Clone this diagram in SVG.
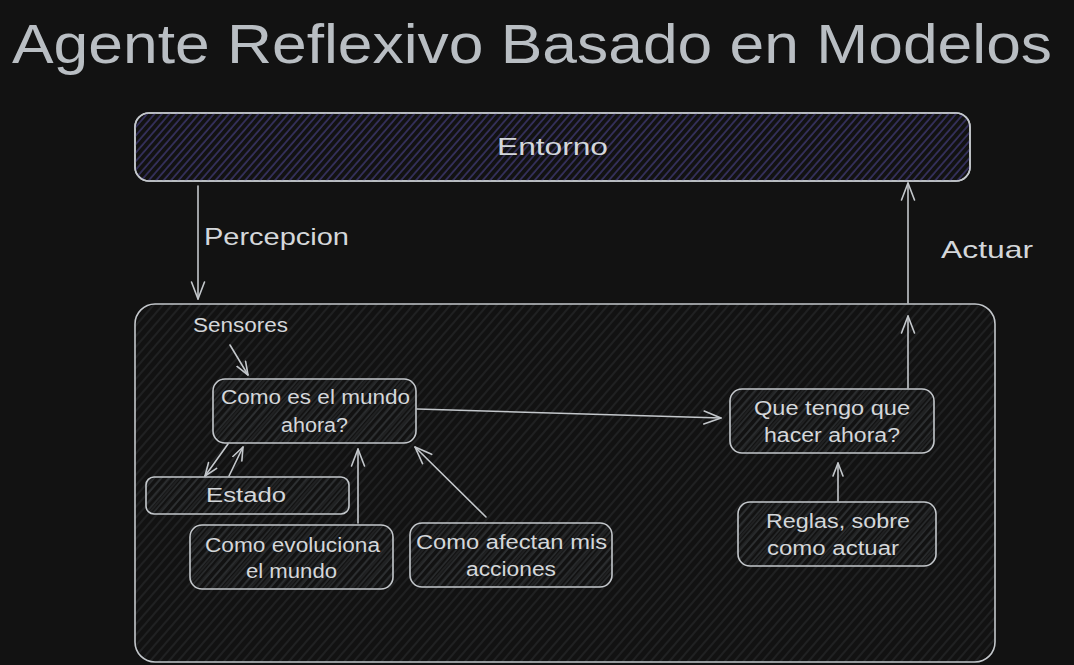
<svg xmlns="http://www.w3.org/2000/svg" width="1074" height="665" viewBox="0 0 1074 665">
<defs>
<style>
.t{font-family:"Liberation Sans",Arial,sans-serif;fill:#d4d7da;}
.s{font-size:20px;}
.m{font-size:24px;}
.box{stroke:#c3c7cb;stroke-width:1.6;}
.ln{fill:none;stroke:#c3c7cb;stroke-width:1.6;stroke-linecap:round;}
</style>
<pattern id="hp" patternUnits="userSpaceOnUse" width="5.6" height="10" patternTransform="rotate(41)">
<line x1="1" y1="0" x2="1" y2="10" stroke="#453f80" stroke-width="1.2"/>
</pattern>
<pattern id="hb" patternUnits="userSpaceOnUse" width="7" height="10" patternTransform="rotate(41)">
<line x1="1" y1="0" x2="1" y2="10" stroke="#27292b" stroke-width="1.3"/>
</pattern>
<pattern id="hi" patternUnits="userSpaceOnUse" width="5.5" height="10" patternTransform="rotate(41)">
<line x1="1" y1="0" x2="1" y2="10" stroke="#35383b" stroke-width="1.1"/>
</pattern>
<marker id="ah" markerUnits="userSpaceOnUse" markerWidth="20" markerHeight="16" viewBox="0 0 20 16" refX="18" refY="8" orient="auto">
<path d="M1,1.5 L18,8 L1,14.5" fill="none" stroke="#c3c7cb" stroke-width="1.6" stroke-linecap="round" stroke-linejoin="round"/>
</marker>
<marker id="as" markerUnits="userSpaceOnUse" markerWidth="16" markerHeight="12" viewBox="0 0 16 12" refX="14" refY="6" orient="auto">
<path d="M1,1 L14,6 L1,11" fill="none" stroke="#c3c7cb" stroke-width="1.6" stroke-linecap="round" stroke-linejoin="round"/>
</marker>
</defs>
<rect x="0" y="0" width="1074" height="665" fill="#121212"/>

<text class="t" x="12" y="63" font-size="56" textLength="1040" lengthAdjust="spacingAndGlyphs" fill="#b9bec3" style="fill:#b9bec3">Agente Reflexivo Basado en Modelos</text>

<g id="entorno">
<rect class="box" x="135" y="113" width="835" height="68" rx="14" fill="#121212"/>
<rect x="135" y="113" width="835" height="68" rx="14" fill="url(#hp)"/>
<rect class="box" x="135" y="113" width="835" height="68" rx="14" fill="none"/>
<text class="t m" x="497" y="155" textLength="111" lengthAdjust="spacingAndGlyphs">Entorno</text>
</g>

<g id="agente">
<rect x="135" y="304" width="860" height="358" rx="20" fill="url(#hb)"/>
<rect class="box" x="135" y="304" width="860" height="358" rx="20" fill="none"/>
<text class="t s" x="193" y="332" textLength="95" lengthAdjust="spacingAndGlyphs">Sensores</text>
</g>

<g id="como-es">
<rect class="box" x="213" y="379" width="203" height="64" rx="12" fill="url(#hi)"/>
<text class="t s" x="221" y="404" textLength="189" lengthAdjust="spacingAndGlyphs">Como es el mundo</text>
<text class="t s" x="281" y="432" textLength="67" lengthAdjust="spacingAndGlyphs">ahora?</text>
</g>

<g id="estado">
<rect class="box" x="146" y="477" width="203" height="37" rx="8" fill="url(#hi)"/>
<text class="t s" x="206" y="502" textLength="80" lengthAdjust="spacingAndGlyphs">Estado</text>
</g>

<g id="evoluciona">
<rect class="box" x="190" y="525" width="203" height="64" rx="12" fill="url(#hi)"/>
<text class="t s" x="205" y="552" textLength="175" lengthAdjust="spacingAndGlyphs">Como evoluciona</text>
<text class="t s" x="246" y="578" textLength="91" lengthAdjust="spacingAndGlyphs">el mundo</text>
</g>

<g id="afectan">
<rect class="box" x="410" y="523" width="202" height="64" rx="12" fill="url(#hi)"/>
<text class="t s" x="416" y="549" textLength="191" lengthAdjust="spacingAndGlyphs">Como afectan mis</text>
<text class="t s" x="466" y="576" textLength="90" lengthAdjust="spacingAndGlyphs">acciones</text>
</g>

<g id="que-tengo">
<rect class="box" x="730" y="389" width="204" height="64" rx="12" fill="url(#hi)"/>
<text class="t s" x="754" y="415" textLength="156" lengthAdjust="spacingAndGlyphs">Que tengo que</text>
<text class="t s" x="764" y="442" textLength="136" lengthAdjust="spacingAndGlyphs">hacer ahora?</text>
</g>

<g id="reglas">
<rect class="box" x="738" y="502" width="198" height="64" rx="12" fill="url(#hi)"/>
<text class="t s" x="766" y="528" textLength="144" lengthAdjust="spacingAndGlyphs">Reglas, sobre</text>
<text class="t s" x="767" y="555" textLength="132" lengthAdjust="spacingAndGlyphs">como actuar</text>
</g>

<g id="connectors">
<line class="ln" x1="198" y1="186" x2="198" y2="299" marker-end="url(#ah)"/>
<text class="t m" x="204" y="245" textLength="145" lengthAdjust="spacingAndGlyphs">Percepcion</text>
<line class="ln" x1="908" y1="303" x2="908" y2="183" marker-end="url(#ah)"/>
<text class="t m" x="941" y="258" textLength="92" lengthAdjust="spacingAndGlyphs">Actuar</text>
<line class="ln" x1="908" y1="388" x2="908" y2="316" marker-end="url(#ah)"/>
<line class="ln" x1="230" y1="345" x2="248" y2="375" marker-end="url(#as)"/>
<line class="ln" x1="417" y1="409" x2="721" y2="418" marker-end="url(#ah)"/>
<line class="ln" x1="228" y1="444" x2="205" y2="476" marker-end="url(#as)"/>
<line class="ln" x1="229" y1="476" x2="243" y2="447" marker-end="url(#as)"/>
<line class="ln" x1="358" y1="523" x2="358" y2="449" marker-end="url(#ah)"/>
<line class="ln" x1="486" y1="517" x2="415" y2="447" marker-end="url(#ah)"/>
<line class="ln" x1="838" y1="501" x2="838" y2="463" marker-end="url(#as)"/>
</g>
</svg>
